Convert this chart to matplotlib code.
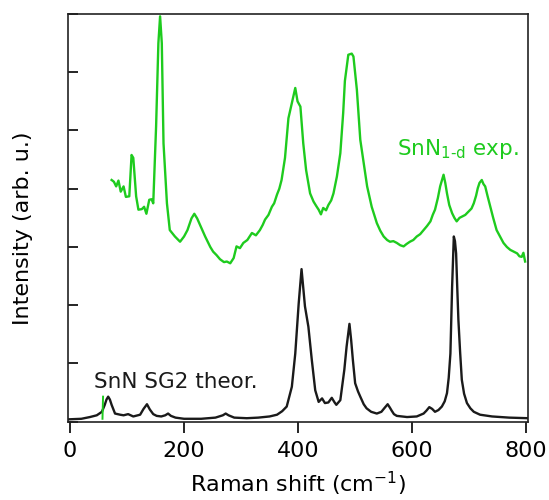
import numpy as np
import matplotlib.pyplot as plt

plt.rcParams['mathtext.default'] = 'regular'

# experimental spectrum (offset upwards)
exp_shift = [73, 77, 81, 85, 89, 94, 98, 104, 108, 111, 116, 120, 126, 130, 134, 139, 143, 146,
             151, 155, 158, 161, 164, 170, 175, 184, 193, 200, 206, 213, 218, 223, 228, 237, 246,
             251, 257, 263, 270, 275, 281, 287, 292, 298, 304, 311, 319, 326, 333, 338, 342, 348,
             354, 358, 363, 367, 371, 377, 383, 389, 392, 395, 399, 404, 409, 414, 421, 427, 432,
             436, 440, 444, 449, 453, 458, 462, 468, 474, 479, 482, 488, 494, 497, 503, 509, 515,
             521, 529, 538, 544, 550, 556, 561, 567, 573, 579, 585, 590, 596, 602, 608, 614, 620,
             626, 632, 636, 640, 645, 649, 655, 658, 661, 665, 670, 674, 678, 683, 687, 693, 699,
             704, 708, 712, 715, 718, 722, 725, 728, 732, 737, 742, 748, 754, 760, 766, 772, 778,
             784, 788, 792, 795, 798]
exp_int = [4.15, 4.12, 4.04, 4.14, 3.95, 4.04, 3.86, 3.87, 4.58, 4.53, 3.87, 3.64, 3.65, 3.69,
           3.57, 3.81, 3.82, 3.75, 5.07, 6.5, 6.96, 6.5, 4.78, 3.75, 3.29, 3.18, 3.09, 3.18, 3.29,
           3.49, 3.57, 3.49, 3.38, 3.18, 3.0, 2.92, 2.86, 2.79, 2.74, 2.75, 2.72, 2.81, 3.01, 2.98,
           3.07, 3.12, 3.24, 3.2, 3.29, 3.38, 3.47, 3.55, 3.69, 3.75, 3.9, 4.0, 4.15, 4.53, 5.21,
           5.47, 5.6, 5.73, 5.5, 5.41, 4.78, 4.32, 3.92, 3.78, 3.7, 3.64, 3.56, 3.67, 3.63, 3.72,
           3.8, 3.92, 4.21, 4.61, 5.3, 5.85, 6.3, 6.32, 6.27, 5.7, 4.84, 4.44, 4.04, 3.69, 3.41,
           3.28, 3.18, 3.12, 3.09, 3.1, 3.07, 3.03, 3.01, 3.05, 3.09, 3.12, 3.18, 3.22, 3.29, 3.36,
           3.44, 3.55, 3.64, 3.84, 4.04, 4.24, 4.1, 3.92, 3.72, 3.58, 3.5, 3.44, 3.5, 3.52, 3.55,
           3.61, 3.66, 3.75, 3.88, 4.01, 4.1, 4.15, 4.08, 4.04, 3.88, 3.69, 3.5, 3.29, 3.18, 3.07,
           3.0, 2.95, 2.92, 2.89, 2.84, 2.83, 2.9, 2.75]

# calculated spectrum
theo_shift = [-4, 20, 35, 47, 56, 61, 64, 67, 70, 73, 79, 88, 94, 102, 111, 123, 129, 135, 140,
              146, 152, 160, 167, 172, 177, 185, 200, 230, 255, 268, 273, 278, 288, 310, 330, 350,
              363, 372, 380, 389, 395, 401, 406, 409, 412, 418, 424, 430, 436, 442, 447, 453, 459,
              464, 467, 474, 481, 485, 490, 493, 496, 500, 505, 509, 515, 520, 528, 538, 546, 551,
              557, 561, 564, 568, 573, 591, 608, 620, 625, 630, 635, 640, 646, 652, 657, 661, 664,
              667, 670, 673, 675, 677, 679, 681, 684, 687, 691, 696, 702, 708, 719, 740, 770, 803]
theo_int = [0.04, 0.05, 0.08, 0.11, 0.17, 0.29, 0.38, 0.43, 0.38, 0.29, 0.14, 0.12, 0.11, 0.13,
            0.09, 0.12, 0.22, 0.3, 0.21, 0.13, 0.1, 0.09, 0.11, 0.14, 0.1, 0.07, 0.05, 0.05, 0.07,
            0.11, 0.14, 0.11, 0.07, 0.06, 0.07, 0.09, 0.12, 0.18, 0.26, 0.6, 1.17, 2.03, 2.62, 2.3,
            1.98, 1.63, 1.06, 0.54, 0.34, 0.4, 0.32, 0.33, 0.41, 0.33, 0.29, 0.37, 0.89, 1.29, 1.68,
            1.4, 1.06, 0.66, 0.52, 0.43, 0.3, 0.23, 0.17, 0.14, 0.17, 0.23, 0.3, 0.24, 0.19, 0.13,
            0.1, 0.08, 0.09, 0.14, 0.19, 0.25, 0.22, 0.17, 0.2, 0.26, 0.35, 0.49, 0.75, 1.17, 2.32,
            3.18, 3.1, 2.89, 2.3, 1.75, 1.2, 0.72, 0.48, 0.32, 0.23, 0.17, 0.12, 0.09, 0.07, 0.06]

# stray green segment near the start of the calculated curve
mark_shift = [57, 58]
mark_int = [0.05, 0.43]

GREEN = '#1ecb1e'

fig = plt.figure(figsize=(5.49, 5.0), dpi=100)
ax = fig.add_axes([0.1233, 0.1566, 0.8384, 0.8154])

ax.plot(theo_shift, theo_int, color='#1a1a1a', lw=1.7)
ax.plot(exp_shift, exp_int, color=GREEN, lw=1.7)
ax.plot(mark_shift, mark_int, color=GREEN, lw=1.4)

ax.set_xlim(-4, 803)
ax.set_ylim(0, 7)
ax.set_xticks([0, 200, 400, 600, 800])
ax.set_yticks(np.arange(0, 8))
ax.set_yticklabels([])
ax.tick_params(axis='x', direction='out', length=8, width=1.2, labelsize=16, pad=6)
ax.tick_params(axis='y', direction='in', length=7, width=1.2)
for s in ax.spines.values():
    s.set_linewidth(1.2)
    s.set_color('#222222')

ax.text(574, 4.58, 'SnN$_{1\\text{-}d}$ exp.', color=GREEN, fontsize=15.5, va='baseline')
ax.text(42, 0.58, 'SnN SG2 theor.', color='#1a1a1a', fontsize=15.5, va='baseline')

ax.set_xlabel('Raman shift (cm$^{-1}$)', fontsize=16)
ax.xaxis.set_label_coords(0.5, -0.117)
ax.xaxis.label.set_va('top')
ax.set_ylabel('Intensity (arb. u.)', fontsize=16)
ax.yaxis.set_label_coords(-0.075, 0.475)

fig.savefig('out.png', dpi=100)
